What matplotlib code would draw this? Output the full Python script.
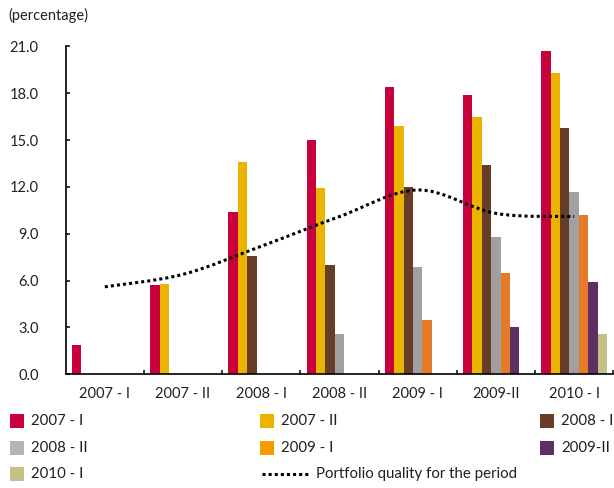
import matplotlib
matplotlib.use("Agg")
import matplotlib.pyplot as plt
import numpy as np
from matplotlib.path import Path
from matplotlib.patches import PathPatch, Rectangle
from matplotlib.lines import Line2D

# Periods on the x axis
periods = ["2007 - I", "2007 - II", "2008 - I", "2008 - II", "2009 - I", "2009-II", "2010 - I"]

# Cohort series (None where the cohort did not exist yet)
cohort_2007_1 = [1.9, 5.7, 10.4, 15.0, 18.4, 17.9, 20.7]
cohort_2007_2 = [None, 5.8, 13.6, 11.9, 15.9, 16.5, 19.3]
cohort_2008_1 = [None, None, 7.6, 7.0, 12.0, 13.4, 15.8]
cohort_2008_2 = [None, None, None, 2.6, 6.9, 8.8, 11.7]
cohort_2009_1 = [None, None, None, None, 3.5, 6.5, 10.2]
cohort_2009_2 = [None, None, None, None, None, 3.0, 5.9]
cohort_2010_1 = [None, None, None, None, None, None, 2.6]

# Portfolio quality for each period
portfolio_quality = [5.6, 6.4, 8.2, 10.1, 11.8, 10.3, 10.1]

cohort_labels = ["2007 - I", "2007 - II", "2008 - I", "2008 - II", "2009 - I", "2009-II", "2010 - I"]
line_label = "Portfolio quality for the period"
y_ticks = [0, 3, 6, 9, 12, 15, 18, 21]

series = [cohort_2007_1, cohort_2007_2, cohort_2008_1, cohort_2008_2,
          cohort_2009_1, cohort_2009_2, cohort_2010_1]
colors = ["#C8003C", "#EBB400", "#683D27", "#A0A0A0", "#E57B28", "#5E2F63", "#C4C187"]
legend_colors = ["#C8003C", "#EBB400", "#683D27", "#B4B4B4", "#F29A00", "#5E2F63", "#C4C187"]

TEXT = "#231F20"
plt.rcParams["font.family"] = ["Lato", "DejaVu Sans"]

W, H = 614, 488
fig = plt.figure(figsize=(W / 100, H / 100), dpi=100)
ax = fig.add_axes([65.7 / W, 1 - 374.3 / H, (613.3 - 65.7) / W, (374.3 - 46.3) / H])

x = np.arange(len(periods))
bw = 0.12
for i, (vals, col) in enumerate(zip(series, colors)):
    xs = [xi + (i - 3) * bw for xi, v in zip(x, vals) if v is not None]
    ys = [v for v in vals if v is not None]
    ax.bar(xs, ys, width=bw, color=col, linewidth=0, zorder=2)

# Smoothed line through the period values (Catmull-Rom as cubic Bezier)
px = x.astype(float)
py = np.array(portfolio_quality, dtype=float)
verts = [(px[0], py[0])]
codes = [Path.MOVETO]
n = len(px)
for k in range(n - 1):
    p0 = (px[max(k - 1, 0)], py[max(k - 1, 0)])
    p1 = (px[k], py[k])
    p2 = (px[k + 1], py[k + 1])
    p3 = (px[min(k + 2, n - 1)], py[min(k + 2, n - 1)])
    c1 = (p1[0] + (p2[0] - p0[0]) / 6, p1[1] + (p2[1] - p0[1]) / 6)
    c2 = (p2[0] - (p3[0] - p1[0]) / 6, p2[1] - (p3[1] - p1[1]) / 6)
    verts += [c1, c2, p2]
    codes += [Path.CURVE4] * 3
curve = PathPatch(Path(verts, codes), fill=False, edgecolor="black",
                  linewidth=2.2, linestyle=(0, (1, 1)), zorder=3)
curve.set_capstyle("butt")
ax.add_patch(curve)

ax.set_xlim(-0.5, len(periods) - 0.5)
ax.set_ylim(0, 21)
ax.set_yticks(y_ticks)
ax.set_yticklabels([f"{v:.1f}" for v in y_ticks])
ax.set_xticks(x)
ax.set_xticklabels(periods)
ax.set_xticks(np.arange(len(periods)) + 0.5, minor=True)

ax.tick_params(axis="y", direction="in", length=3, width=1.1, pad=19.5,
               labelsize=10.5, labelcolor=TEXT)
ax.tick_params(axis="x", which="major", length=0, pad=9, labelsize=10.5, labelcolor=TEXT)
ax.tick_params(axis="x", which="minor", direction="in", length=3, width=1.1)

for s in ["top", "right"]:
    ax.spines[s].set_visible(False)
for s in ["left", "bottom"]:
    ax.spines[s].set_linewidth(1.2)
    ax.spines[s].set_color("black")

fig.text(8 / W, 1 - 15 / H, "(percentage)", fontsize=10.5, color=TEXT,
         ha="left", va="center")

# Legend laid out row by row in three columns
col_patch_x = [10, 260, 540]
col_text_x = [31, 281, 561]
row_y = [421, 447.7, 474.3]
sq = 14
legend_size = 10.8
for idx, (lab, col) in enumerate(zip(cohort_labels, legend_colors)):
    r, c = divmod(idx, 3)
    fig.patches.append(Rectangle((col_patch_x[c] / W, 1 - (row_y[r] + sq / 2) / H),
                                 sq / W, sq / H, transform=fig.transFigure,
                                 facecolor=col, edgecolor="none", figure=fig))
    fig.text(col_text_x[c] / W, 1 - row_y[r] / H, lab, fontsize=legend_size, color=TEXT,
             ha="left", va="center")

ly = 1 - row_y[2] / H
fig.lines.append(Line2D([261.5 / W, 309 / W], [ly, ly], transform=fig.transFigure,
                        color="black", linewidth=2.2, linestyle=(0, (1, 1)),
                        dash_capstyle="butt", figure=fig))
fig.text(316 / W, ly, line_label, fontsize=legend_size, color=TEXT, ha="left", va="center")

fig.savefig("out.png", dpi=100)
